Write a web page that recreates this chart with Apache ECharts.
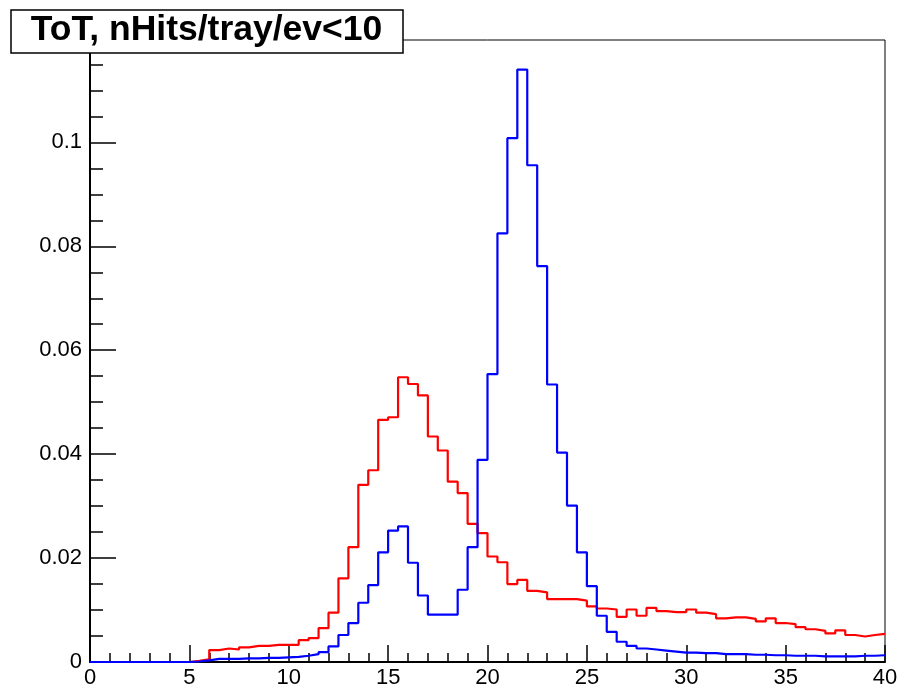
<!DOCTYPE html>
<html>
<head>
<meta charset="utf-8">
<script src="https://cdn.jsdelivr.net/npm/echarts@6/dist/echarts.min.js"></script>
<style>
  html, body { margin: 0; padding: 0; background: #fff; }
  #main { width: 904px; height: 691px; }
</style>
</head>
<body>
<div id="main"></div>
<script>
// histogram binning: 80 bins of 0.5 from 0 to 40
var binLow = 0;
var binWidth = 0.5;

// red histogram, bin contents
var redValues = [
    0, 0, 0, 0, 0, 0, 0, 0, 0, 0,
    0.0002, 0.0005, 0.0023, 0.0026, 0.0024, 0.0028, 0.0031, 0.0031, 0.0033, 0.0033,
    0.0033, 0.0042, 0.0046, 0.0065, 0.0095, 0.0161, 0.0221, 0.0341, 0.0369, 0.0466,
    0.0471, 0.0548, 0.0535, 0.0513, 0.0434, 0.0407, 0.0347, 0.0325, 0.0266, 0.0248,
    0.0203, 0.0192, 0.0150, 0.0158, 0.0137, 0.0134, 0.0121, 0.0121, 0.0121, 0.0118,
    0.0107, 0.0103, 0.0101, 0.0087, 0.0101, 0.0089, 0.0104, 0.0098, 0.0096, 0.0096,
    0.0101, 0.0095, 0.0092, 0.0084, 0.0086, 0.0086, 0.0083, 0.0078, 0.0084, 0.0075,
    0.0073, 0.0067, 0.0063, 0.0060, 0.0055, 0.0061, 0.0052, 0.0049, 0.0052, 0.0054
];

// blue histogram, bin contents
var blueValues = [
    0, 0, 0, 0, 0, 0, 0, 0, 0, 0,
    0.0001, 0.0003, 0.0006, 0.0006, 0.0006, 0.0007, 0.0007, 0.0008, 0.0008, 0.0009,
    0.0010, 0.0012, 0.0015, 0.0019, 0.0030, 0.0052, 0.0075, 0.0114, 0.0148, 0.0211,
    0.0253, 0.0261, 0.0191, 0.0128, 0.0091, 0.0091, 0.0091, 0.0139, 0.0221, 0.0389,
    0.0554, 0.0825, 0.1008, 0.1140, 0.0956, 0.0762, 0.0534, 0.0403, 0.0301, 0.0211,
    0.0146, 0.0089, 0.0058, 0.0039, 0.0031, 0.0026, 0.0024, 0.0022, 0.0020, 0.0018,
    0.0018, 0.0017, 0.0017, 0.0015, 0.0015, 0.0015, 0.0014, 0.0014, 0.0013, 0.0013,
    0.0012, 0.0012, 0.0012, 0.0011, 0.0011, 0.0011, 0.0011, 0.0012, 0.0012, 0.0013
];

var titleText = 'ToT, nHits/tray/ev<10';

// turn bin contents into step points (left edge of every bin + closing point)
function toSteps(vals) {
    var pts = [];
    for (var i = 0; i < vals.length; i++) {
        pts.push([binLow + i * binWidth, vals[i]]);
    }
    pts.push([binLow + vals.length * binWidth, vals[vals.length - 1]]);
    return pts;
}

var font = '"Liberation Sans", Arial, Helvetica, sans-serif';

var myChart = echarts.init(document.getElementById('main'));
var option = {
    animation: false,
    grid: {
        left: 90, right: 19, top: 40, bottom: 29,
        show: true,
        borderColor: '#000',
        borderWidth: 1,
        backgroundColor: 'transparent'
    },
    xAxis: {
        type: 'value',
        min: 0,
        max: 40,
        interval: 5,
        axisLine: { show: true, onZero: false, lineStyle: { color: '#000', width: 2 } },
        axisTick: { show: true, inside: true, length: 17, lineStyle: { color: '#000', width: 1.5 } },
        minorTick: { show: true, splitNumber: 5, length: 9, lineStyle: { color: '#000', width: 1.5 } },
        splitLine: { show: false },
        axisLabel: { color: '#000', fontSize: 22, fontFamily: font, margin: 5 }
    },
    yAxis: {
        type: 'value',
        min: 0,
        max: 0.1197,
        interval: 0.02,
        axisLine: { show: true, lineStyle: { color: '#000', width: 2 } },
        axisTick: { show: true, inside: true, length: 26, lineStyle: { color: '#000', width: 1.5 } },
        minorTick: { show: true, splitNumber: 4, length: 13, lineStyle: { color: '#000', width: 1.5 } },
        splitLine: { show: false },
        axisLabel: {
            color: '#000', fontSize: 22, fontFamily: font, margin: 8,
            formatter: function (v) { return v === 0 ? '0' : String(+v.toFixed(3)); }
        }
    },
    series: [
        {
            type: 'line',
            step: 'end',
            data: toSteps(redValues),
            symbol: 'none',
            lineStyle: { color: '#ff0000', width: 2.2 },
            z: 3
        },
        {
            type: 'line',
            step: 'end',
            data: toSteps(blueValues),
            symbol: 'none',
            lineStyle: { color: '#0000ff', width: 2.2 },
            z: 4
        }
    ],
    graphic: [
        {
            type: 'rect',
            shape: { x: 11, y: 10, width: 392, height: 43 },
            style: { fill: '#fff', stroke: '#000', lineWidth: 1.5 },
            z: 100
        },
        {
            type: 'text',
            x: 206.5,
            y: 30,
            style: {
                text: titleText,
                fill: '#000',
                font: 'bold 35.5px ' + font,
                align: 'center',
                verticalAlign: 'middle'
            },
            z: 101
        }
    ]
};
myChart.setOption(option);
</script>
</body>
</html>
